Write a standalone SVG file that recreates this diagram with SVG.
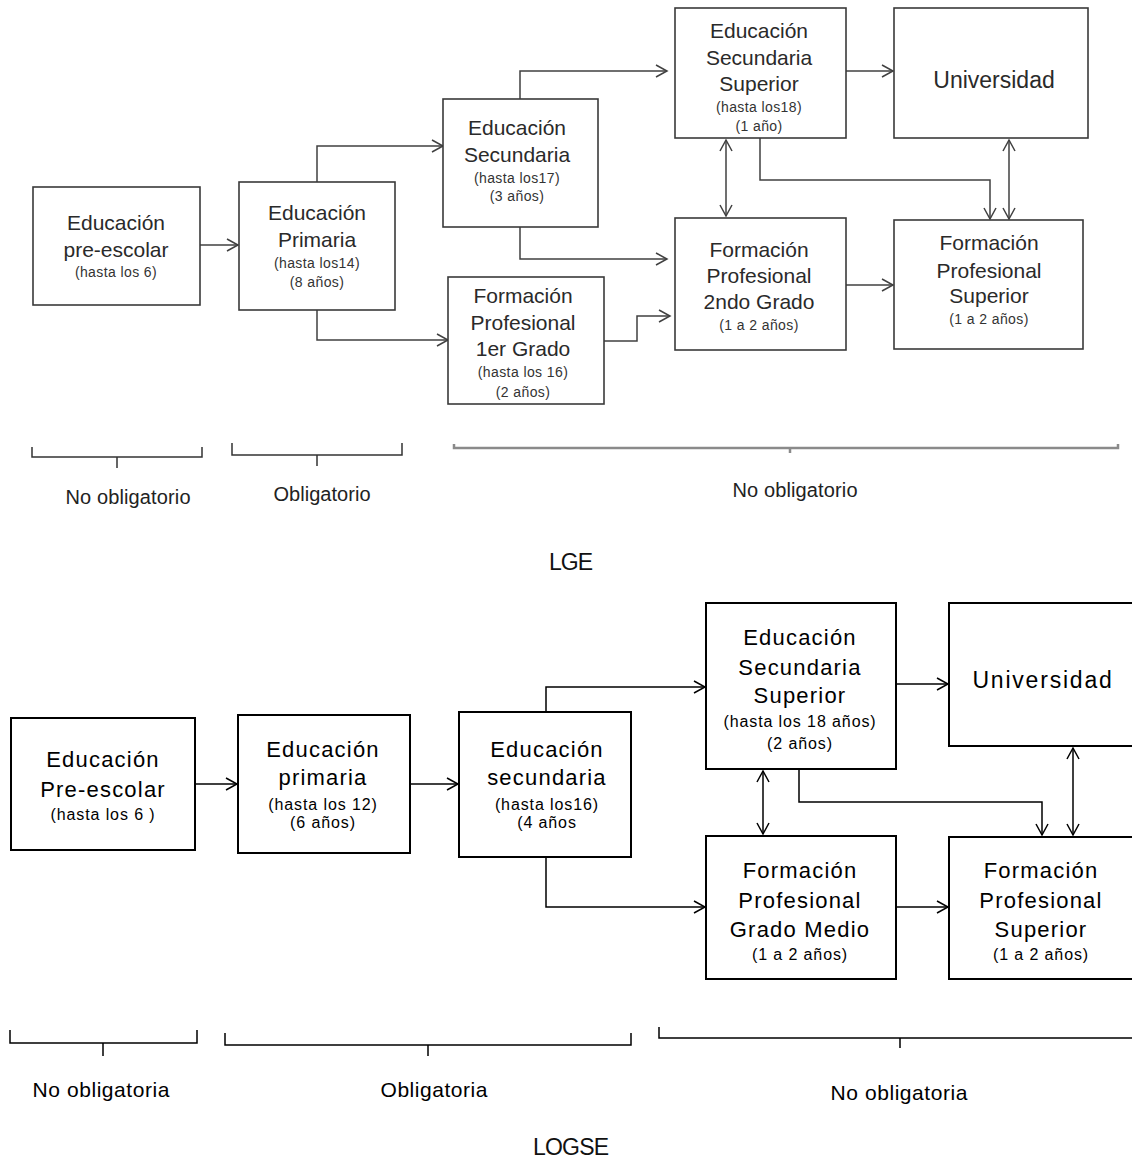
<svg xmlns="http://www.w3.org/2000/svg" width="1132" height="1160" viewBox="0 0 1132 1160">
<style>
text{font-family:"Liberation Sans",Arial,sans-serif;text-anchor:middle}
.b1{fill:#fff;stroke:#3a3a3a;stroke-width:1.6}
.b2{fill:#fff;stroke:#000;stroke-width:2}
.c1{fill:none;stroke:#404040;stroke-width:1.5}
.c2{fill:none;stroke:#000;stroke-width:1.5}
.t1{font-size:21px;fill:#2a2a2a}
.t1s{font-size:14px;fill:#333;letter-spacing:0.4px}
.t2{font-size:22px;fill:#000;letter-spacing:1.2px}
.t2s{font-size:16px;fill:#000;letter-spacing:0.9px}
.lab{font-size:20px;fill:#222}
.lab2{font-size:21px;fill:#000}
.br1{fill:none;stroke:#333;stroke-width:1.5}
.br1g{fill:none;stroke:#8a8a8a;stroke-width:2.5}
.br2{fill:none;stroke:#000;stroke-width:1.5}
.title{font-size:23px;fill:#111}
</style>
<defs>
<marker id="ah1" markerWidth="14" markerHeight="14" refX="12" refY="7" orient="auto-start-reverse" markerUnits="userSpaceOnUse"><path d="M1,1 L12,7 L1,13" fill="none" stroke="#404040" stroke-width="1.5"/></marker>
<marker id="ah2" markerWidth="14" markerHeight="14" refX="12" refY="7" orient="auto-start-reverse" markerUnits="userSpaceOnUse"><path d="M1,1 L12,7 L1,13" fill="none" stroke="#000" stroke-width="1.5"/></marker>
</defs>

<!-- ===== LGE ===== -->
<g id="connectors-lge">
<path class="c1" d="M200,245 H238" marker-end="url(#ah1)"/>
<path class="c1" d="M317,182 V146 H443" marker-end="url(#ah1)"/>
<path class="c1" d="M317,310 V340 H448" marker-end="url(#ah1)"/>
<path class="c1" d="M520,99 V71 H667" marker-end="url(#ah1)"/>
<path class="c1" d="M520,227 V259 H667" marker-end="url(#ah1)"/>
<path class="c1" d="M604,341 H637 V316 H670" marker-end="url(#ah1)"/>
<path class="c1" d="M726,140 V216" marker-start="url(#ah1)" marker-end="url(#ah1)"/>
<path class="c1" d="M760,138 V180 H990 V219" marker-end="url(#ah1)"/>
<path class="c1" d="M846,71 H893" marker-end="url(#ah1)"/>
<path class="c1" d="M846,285 H893" marker-end="url(#ah1)"/>
<path class="c1" d="M1009,140 V219" marker-start="url(#ah1)" marker-end="url(#ah1)"/>
</g>

<g id="lge-preescolar">
<rect class="b1" x="33" y="187" width="167" height="118"/>
<text class="t1" x="116" y="230">Educación</text>
<text class="t1" x="116" y="257">pre-escolar</text>
<text class="t1s" x="116" y="277">(hasta los 6)</text>
</g>
<g id="lge-primaria">
<rect class="b1" x="239" y="182" width="156" height="128"/>
<text class="t1" x="317" y="220">Educación</text>
<text class="t1" x="317" y="247">Primaria</text>
<text class="t1s" x="317" y="268">(hasta los14)</text>
<text class="t1s" x="317" y="287">(8 años)</text>
</g>
<g id="lge-secundaria">
<rect class="b1" x="443" y="99" width="155" height="128"/>
<text class="t1" x="517" y="135">Educación</text>
<text class="t1" x="517" y="162">Secundaria</text>
<text class="t1s" x="517" y="183">(hasta los17)</text>
<text class="t1s" x="517" y="201">(3 años)</text>
</g>
<g id="lge-fp1">
<rect class="b1" x="448" y="277" width="156" height="127"/>
<text class="t1" x="523" y="303">Formación</text>
<text class="t1" x="523" y="330">Profesional</text>
<text class="t1" x="523" y="356">1er Grado</text>
<text class="t1s" x="523" y="377">(hasta los 16)</text>
<text class="t1s" x="523" y="397">(2 años)</text>
</g>
<g id="lge-secsup">
<rect class="b1" x="675" y="8" width="171" height="130"/>
<text class="t1" x="759" y="38">Educación</text>
<text class="t1" x="759" y="65">Secundaria</text>
<text class="t1" x="759" y="91">Superior</text>
<text class="t1s" x="759" y="112">(hasta los18)</text>
<text class="t1s" x="759" y="131">(1 año)</text>
</g>
<g id="lge-fp2">
<rect class="b1" x="675" y="218" width="171" height="132"/>
<text class="t1" x="759" y="257">Formación</text>
<text class="t1" x="759" y="283">Profesional</text>
<text class="t1" x="759" y="309">2ndo Grado</text>
<text class="t1s" x="759" y="330">(1 a 2 años)</text>
</g>
<g id="lge-universidad">
<rect class="b1" x="894" y="8" width="194" height="130"/>
<text class="t1" x="994" y="88" style="font-size:23px">Universidad</text>
</g>
<g id="lge-fpsup">
<rect class="b1" x="894" y="220" width="189" height="129"/>
<text class="t1" x="989" y="250">Formación</text>
<text class="t1" x="989" y="278">Profesional</text>
<text class="t1" x="989" y="303">Superior</text>
<text class="t1s" x="989" y="324">(1 a 2 años)</text>
</g>

<g id="lge-braces">
<path class="br1" d="M32,447 V457 H202 V447 M117,457 V468"/>
<path class="br1" d="M232,443 V455 H402 V443 M317,455 V466"/>
<path class="br1g" d="M454,444 V448 H1118 V444 M790,448 V453"/>
<text class="lab" x="128" y="504" textLength="125">No obligatorio</text>
<text class="lab" x="322" y="501" textLength="97">Obligatorio</text>
<text class="lab" x="795" y="497" textLength="125">No obligatorio</text>
<text class="title" x="571" y="570" textLength="44">LGE</text>
</g>

<!-- ===== LOGSE ===== -->
<g id="connectors-logse">
<path class="c2" d="M195,784 H237" marker-end="url(#ah2)"/>
<path class="c2" d="M410,784 H458" marker-end="url(#ah2)"/>
<path class="c2" d="M546,712 V687 H705" marker-end="url(#ah2)"/>
<path class="c2" d="M546,857 V907 H705" marker-end="url(#ah2)"/>
<path class="c2" d="M763,771 V834" marker-start="url(#ah2)" marker-end="url(#ah2)"/>
<path class="c2" d="M799,769 V802 H1042 V835" marker-end="url(#ah2)"/>
<path class="c2" d="M896,684 H948" marker-end="url(#ah2)"/>
<path class="c2" d="M896,907 H948" marker-end="url(#ah2)"/>
<path class="c2" d="M1073,748 V835" marker-start="url(#ah2)" marker-end="url(#ah2)"/>
</g>

<g id="logse-preescolar">
<rect class="b2" x="11" y="718" width="184" height="132"/>
<text class="t2" x="103" y="767">Educación</text>
<text class="t2" x="103" y="797">Pre-escolar</text>
<text class="t2s" x="103" y="820">(hasta los 6 )</text>
</g>
<g id="logse-primaria">
<rect class="b2" x="238" y="715" width="172" height="138"/>
<text class="t2" x="323" y="757">Educación</text>
<text class="t2" x="323" y="785">primaria</text>
<text class="t2s" x="323" y="810">(hasta los 12)</text>
<text class="t2s" x="323" y="828">(6 años)</text>
</g>
<g id="logse-secundaria">
<rect class="b2" x="459" y="712" width="172" height="145"/>
<text class="t2" x="547" y="757">Educación</text>
<text class="t2" x="547" y="785">secundaria</text>
<text class="t2s" x="547" y="810">(hasta los16)</text>
<text class="t2s" x="547" y="828">(4 años</text>
</g>
<g id="logse-secsup">
<rect class="b2" x="706" y="603" width="190" height="166"/>
<text class="t2" x="800" y="645">Educación</text>
<text class="t2" x="800" y="675">Secundaria</text>
<text class="t2" x="800" y="703">Superior</text>
<text class="t2s" x="800" y="727">(hasta los 18 años)</text>
<text class="t2s" x="800" y="749">(2 años)</text>
</g>
<g id="logse-fpmedio">
<rect class="b2" x="706" y="836" width="190" height="143"/>
<text class="t2" x="800" y="878">Formación</text>
<text class="t2" x="800" y="908">Profesional</text>
<text class="t2" x="800" y="937">Grado Medio</text>
<text class="t2s" x="800" y="960">(1 a 2 años)</text>
</g>
<g id="logse-universidad">
<rect class="b2" x="949" y="603" width="200" height="143"/>
<text class="t2" x="1043" y="688" style="font-size:23px;letter-spacing:1.8px">Universidad</text>
</g>
<g id="logse-fpsup">
<rect class="b2" x="949" y="837" width="200" height="142"/>
<text class="t2" x="1041" y="878">Formación</text>
<text class="t2" x="1041" y="908">Profesional</text>
<text class="t2" x="1041" y="937">Superior</text>
<text class="t2s" x="1041" y="960">(1 a 2 años)</text>
</g>

<g id="logse-braces">
<path class="br2" d="M10,1030 V1043 H197 V1030 M103,1043 V1056"/>
<path class="br2" d="M225,1033 V1045 H631 V1033 M428,1045 V1056"/>
<path class="br2" d="M659,1027 V1038 H1140 M900,1038 V1048"/>
<text class="lab2" x="101" y="1097" textLength="137">No obligatoria</text>
<text class="lab2" x="434" y="1097" textLength="107">Obligatoria</text>
<text class="lab2" x="899" y="1100" textLength="137">No obligatoria</text>
<text class="title" x="571" y="1155" textLength="76">LOGSE</text>
</g>
</svg>
